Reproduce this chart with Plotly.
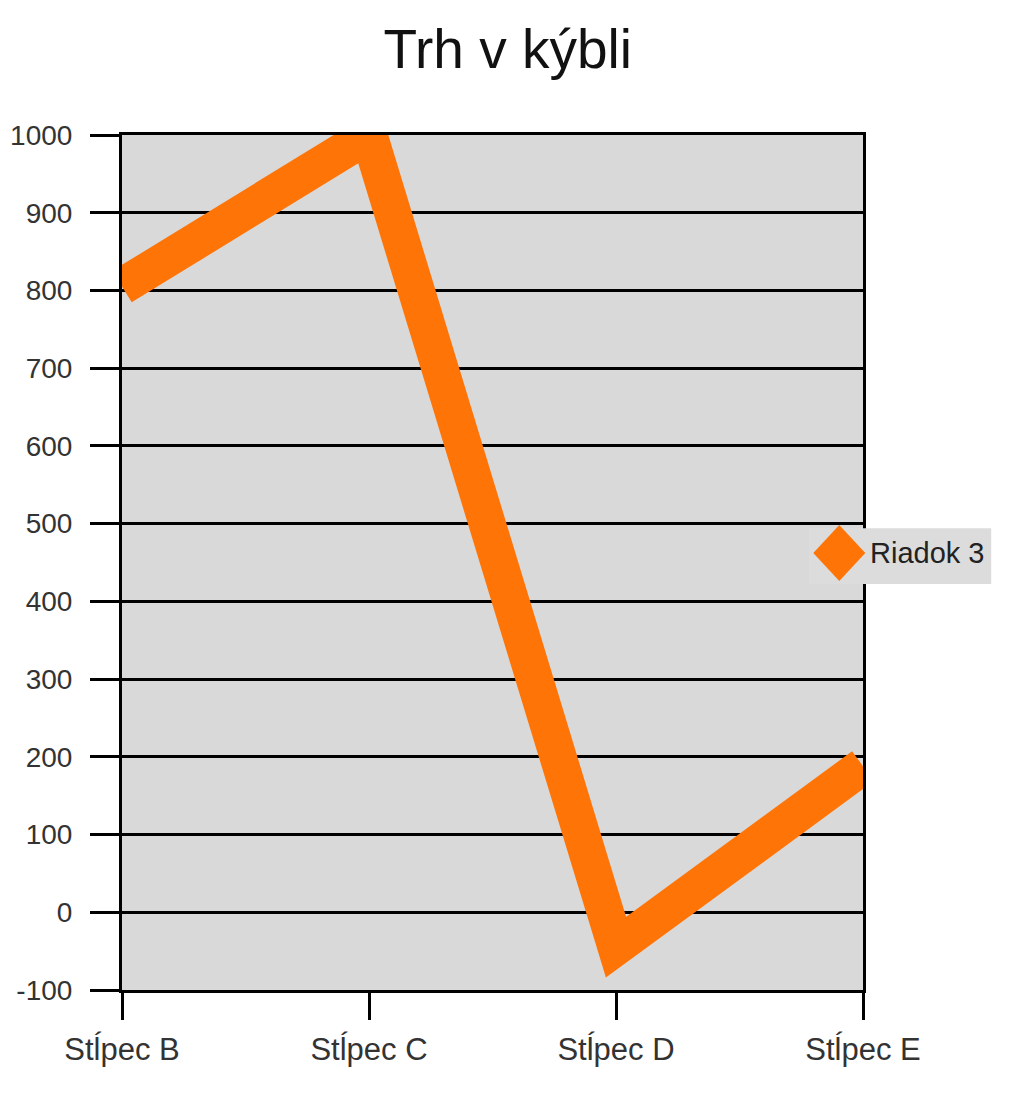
import plotly.graph_objects as go

# data
categories = ["Stĺpec B", "Stĺpec C", "Stĺpec D", "Stĺpec E"]
riadok_3 = [805, 1000, -45, 188]
series_name = "Riadok 3"
y_ticks = list(range(-100, 1001, 100))
y_tick_text = [str(v) for v in y_ticks]  # plain hyphen for -100

ORANGE = "#ff7407"
FONT = "Liberation Sans, Arial, sans-serif"

fig = go.Figure()
fig.add_trace(go.Scatter(
    x=categories,
    y=riadok_3,
    name=series_name,
    mode="lines",
    line=dict(color=ORANGE, width=37),
    showlegend=False,
    hoverinfo="x+y",
))

# hand-made legend: grey box, big diamond, label
fig.add_shape(
    type="rect", xref="paper", yref="paper",
    x0=0.927, x1=1.173, y0=0.475, y1=0.540,
    fillcolor="#dcdcdc", line=dict(width=0), layer="above",
)
fig.add_shape(
    type="path", xref="paper", yref="paper",
    xsizemode="pixel", ysizemode="pixel",
    xanchor=0.968, yanchor=0.511,
    path="M 0,28 L 26,0 L 0,-28 L -26,0 Z",
    fillcolor=ORANGE, line=dict(width=0), layer="above",
)
fig.add_annotation(
    text=series_name, xref="paper", yref="paper",
    x=1.007, y=0.511, xanchor="left", yanchor="middle",
    showarrow=False, font=dict(family=FONT, size=29, color="#222222"),
)

fig.update_layout(
    width=1024,
    height=1120,
    margin=dict(l=114, r=169, t=127, b=138),
    paper_bgcolor="white",
    plot_bgcolor="#d9d9d9",
    showlegend=False,
    font=dict(family=FONT, size=31, color="#333333"),
    title=dict(
        text="Trh v kýbli",
        x=0.488,
        xanchor="center",
        y=0.9635,
        yanchor="middle",
        font=dict(family=FONT, size=55, color="#111111"),
    ),
)
fig.update_xaxes(
    type="category",
    range=[0, 3],
    showgrid=False,
    showline=True,
    linecolor="black",
    linewidth=3,
    mirror=True,
    ticks="outside",
    ticklen=27,
    tickwidth=3,
    tickcolor="black",
    ticklabelstandoff=3,
    automargin=False,
    fixedrange=True,
)
fig.update_yaxes(
    range=[-100, 1000],
    tickvals=y_ticks,
    ticktext=y_tick_text,
    tickfont=dict(size=28),
    showgrid=True,
    gridcolor="black",
    gridwidth=3,
    zeroline=False,
    showline=True,
    linecolor="black",
    linewidth=3,
    mirror=True,
    ticks="outside",
    ticklen=29,
    tickwidth=3,
    tickcolor="black",
    ticklabelstandoff=12,
    automargin=False,
    fixedrange=True,
)

fig.write_html("out.html")
